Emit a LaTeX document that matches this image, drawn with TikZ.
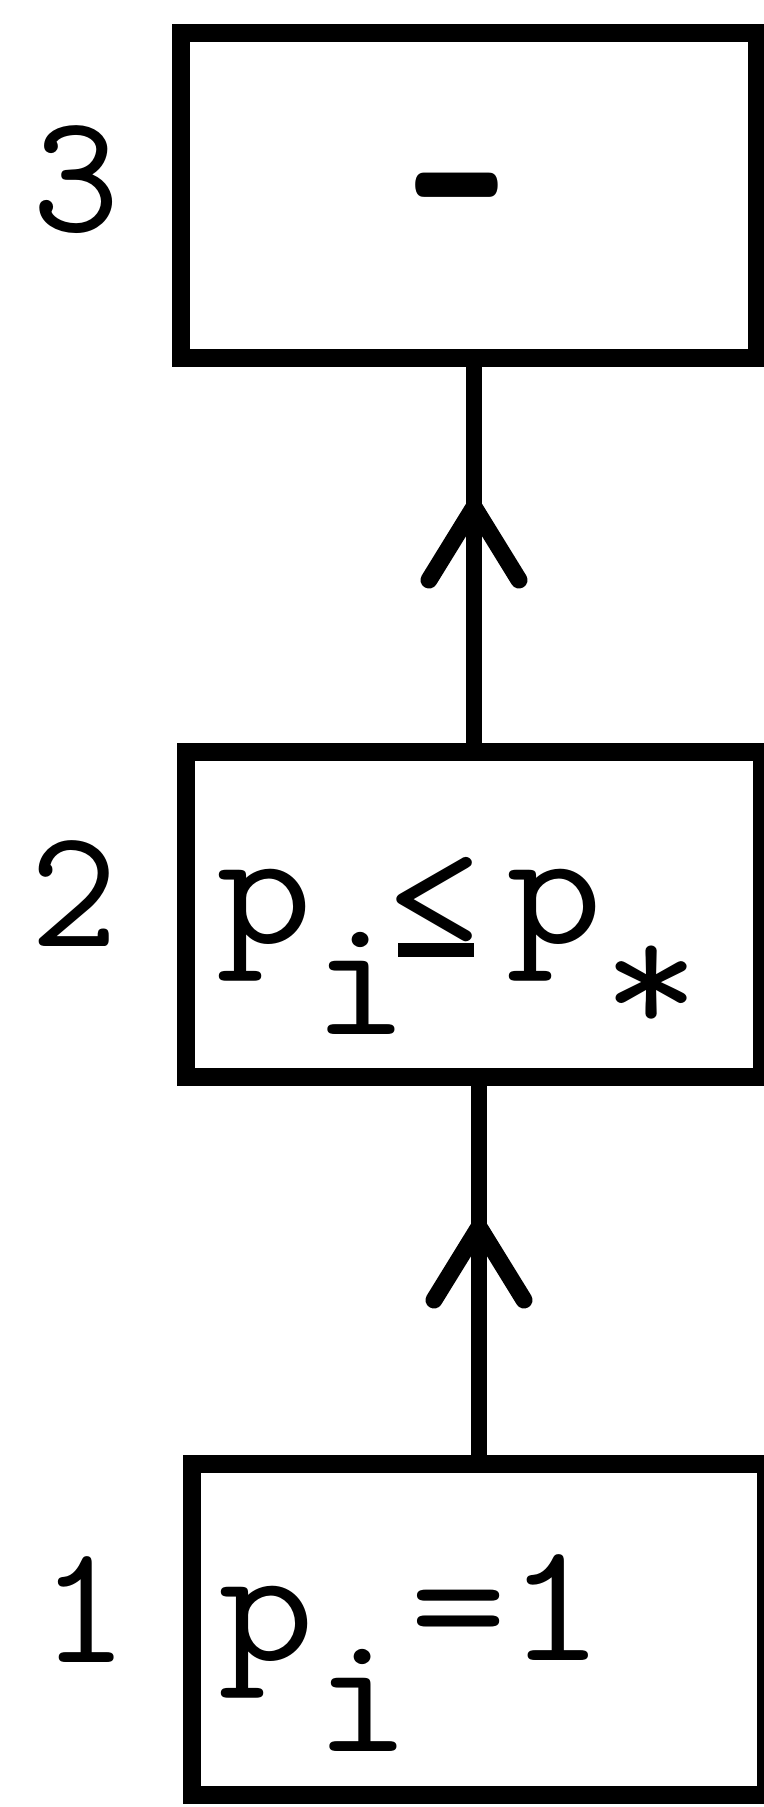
\documentclass[tikz,border=0pt]{standalone}
\usepackage{graphicx}
\newcommand{\tw}{\fontsize{170}{200}\selectfont\ttfamily}
\newcommand{\sx}[1]{\scalebox{1.1}[1]{#1}}
\newcommand{\tle}{\makebox[0.525em][l]{\kern-0.12em\ooalign{\raisebox{-0.05em}{<}\cr\kern0.06em\rule[-0.08em]{0.41em}{0.08em}\cr}}}
\tikzset{
  box/.style={draw, line width=18pt, rectangle, inner sep=0pt, minimum width=576pt, minimum height=325pt},
  conn/.style={line width=16pt},
  chev/.style={line width=17pt, line cap=round, line join=round},
  lbl/.style={inner sep=0pt, font=\tw},
  txt/.style={inner sep=0pt, anchor=base west, font=\tw},
}
\begin{document}
\begin{tikzpicture}[x=1pt,y=-1pt]
\useasboundingbox (0,0) rectangle (763,1807);
\node[box] (b3) at (469,195.5) {};
\node[box] (b2) at (474,914.5) {};
\node[box, minimum width=574pt, minimum height=331pt] (b1) at (479,1629.5) {};
\draw[conn] (b2.north) -- (b2.north |- b3.south);
\draw[conn] (b1.north) -- (b1.north |- b2.south);
\coordinate (a1) at ([yshift=236pt]b2.north);
\coordinate (a2) at ([yshift=228pt]b1.north);
\draw[chev] ([shift={(-45pt,-73pt)}]a1) -- (a1) -- ([shift={(45pt,-73pt)}]a1);
\draw[chev] ([shift={(-45pt,-73pt)}]a2) -- (a2) -- ([shift={(45pt,-73pt)}]a2);
\node[lbl] (n3) at (76,180) {3};
\node[lbl] (n2) at (74,894) {2};
\node[lbl] (n1) at (84,1610) {1};
\node[txt, anchor=base] (t3) at (457,299) {\scalebox{1.2}[2.2]{-}};
\node[txt] (t2) at (216,943) {\sx{p\raisebox{-0.54em}{i}\tle p\raisebox{-0.54em}{*}}};
\node[txt] (t1) at (218,1660) {\sx{p\raisebox{-0.54em}{i}=1}};
\end{tikzpicture}
\end{document}
